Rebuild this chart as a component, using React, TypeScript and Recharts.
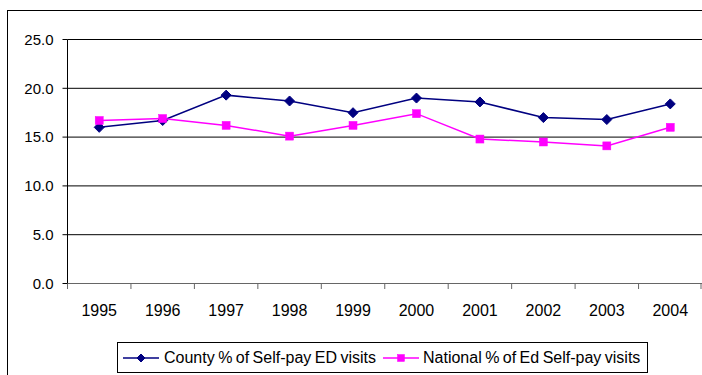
import React from "react";
import { LineChart, Line, XAxis, YAxis, CartesianGrid } from "recharts";

// Self-pay share of emergency department visits, 1995–2004
const years = ["1995", "1996", "1997", "1998", "1999", "2000", "2001", "2002", "2003", "2004"];
const countySelfPay = [16.0, 16.7, 19.3, 18.7, 17.5, 19.0, 18.6, 17.0, 16.8, 18.4];
const nationalSelfPay = [16.7, 16.9, 16.2, 15.1, 16.2, 17.4, 14.8, 14.5, 14.1, 16.0];
const yTicks = [0, 5, 10, 15, 20, 25];

const countyName = "County % of Self-pay ED visits";
const nationalName = "National % of Ed Self-pay visits";

const NAVY = "#000080";
const MAGENTA = "#FF00FF";
const FONT = "'Liberation Sans', Arial, sans-serif";

const data = years.map((year, i) => ({
  year,
  county: countySelfPay[i],
  national: nationalSelfPay[i],
}));

const Diamond = ({ cx, cy, r = 5, color = NAVY }: any) => (
  <path
    d={`M${cx},${cy - r} L${cx + r},${cy} L${cx},${cy + r} L${cx - r},${cy} Z`}
    fill={color}
    stroke={color}
    strokeWidth={1}
  />
);

const Square = ({ cx, cy, s = 4, color = MAGENTA }: any) => (
  <rect x={cx - s} y={cy - s} width={s * 2} height={s * 2} fill={color} stroke={color} strokeWidth={0.5} />
);

// Category labels sit in the middle of each slot; tick marks fall between categories.
// With tickSize and tickMargin at 0, props.y is the axis line itself.
const YearTick = (props: any) => {
  const { x, y, payload, index, visibleTicksCount, width } = props;
  const band = width / visibleTicksCount;
  const left = x - band / 2;
  const right = x + band / 2;
  return (
    <g>
      <line x1={left} y1={y} x2={left} y2={y + 5.5} stroke="#666" strokeWidth={1} />
      {index === visibleTicksCount - 1 && (
        <line x1={right - 1} y1={y} x2={right - 1} y2={y + 5.5} stroke="#666" strokeWidth={1} />
      )}
      <text x={x} y={y + 32.5} textAnchor="middle" fontFamily={FONT} fontSize={16} fill="#000">
        {payload.value}
      </text>
    </g>
  );
};

const LegendIcon = ({ color, kind }: { color: string; kind: "diamond" | "square" }) => (
  <svg width={36} height={12} style={{ display: "block" }}>
    <line x1={0} y1={6} x2={36} y2={6} stroke={color} strokeWidth={1.5} />
    {kind === "diamond" ? (
      <Diamond cx={18} cy={6} r={4} color={color} />
    ) : (
      <Square cx={18} cy={6} s={3.5} color={color} />
    )}
  </svg>
);

const legendItem: React.CSSProperties = {
  position: "absolute",
  top: 0,
  height: "100%",
  display: "flex",
  alignItems: "center",
};

export default function App() {
  return (
    <div
      style={{
        position: "fixed",
        left: 0,
        top: 0,
        width: 702,
        height: 375,
        overflow: "hidden",
        background: "#fff",
      }}
    >
      <div
        style={{
          position: "absolute",
          left: 7,
          top: 10,
          width: 740,
          height: 420,
          border: "1px solid #000",
          boxSizing: "border-box",
        }}
      />
      <div style={{ position: "absolute", left: 0, top: 0 }}>
        <LineChart
          width={702}
          height={375}
          data={data}
          margin={{ top: 39.5, right: 0, bottom: 51.5, left: 0 }}
        >
          <CartesianGrid vertical={false} stroke="#000" strokeWidth={1} />
          <XAxis
            dataKey="year"
            scale="band"
            height={40}
            axisLine={{ stroke: "#666", strokeWidth: 1 }}
            tickLine={false}
            tickSize={0}
            tickMargin={0}
            tick={<YearTick />}
            interval={0}
          />
          <YAxis
            width={67.5}
            domain={[0, 25]}
            ticks={yTicks}
            interval={0}
            tickFormatter={(v: number) => v.toFixed(1)}
            axisLine={{ stroke: "#000" }}
            tickLine={{ stroke: "#000" }}
            tickSize={5}
            tickMargin={9}
            tick={{ fontFamily: FONT, fontSize: 15, fill: "#000" }}
          />
          <Line
            type="linear"
            dataKey="county"
            name={countyName}
            stroke={NAVY}
            strokeWidth={1.5}
            dot={(p: any) => <Diamond key={`c-${p.index}`} cx={p.cx} cy={p.cy} r={5} color={NAVY} />}
            activeDot={false}
            isAnimationActive={false}
          />
          <Line
            type="linear"
            dataKey="national"
            name={nationalName}
            stroke={MAGENTA}
            strokeWidth={1.5}
            dot={(p: any) => <Square key={`n-${p.index}`} cx={p.cx} cy={p.cy} s={4} color={MAGENTA} />}
            activeDot={false}
            isAnimationActive={false}
          />
        </LineChart>
      </div>
      <div
        style={{
          position: "absolute",
          left: 117,
          top: 342,
          width: 531,
          height: 31,
          border: "1px solid #000",
          boxSizing: "border-box",
          fontFamily: FONT,
          fontSize: 16,
          color: "#000",
          whiteSpace: "nowrap",
          wordSpacing: -1,
        }}
      >
        <div style={{ ...legendItem, left: 5 }}>
          <LegendIcon color={NAVY} kind="diamond" />
          <span style={{ marginLeft: 5 }}>{countyName}</span>
        </div>
        <div style={{ ...legendItem, left: 265 }}>
          <LegendIcon color={MAGENTA} kind="square" />
          <span style={{ marginLeft: 4 }}>{nationalName}</span>
        </div>
      </div>
    </div>
  );
}
